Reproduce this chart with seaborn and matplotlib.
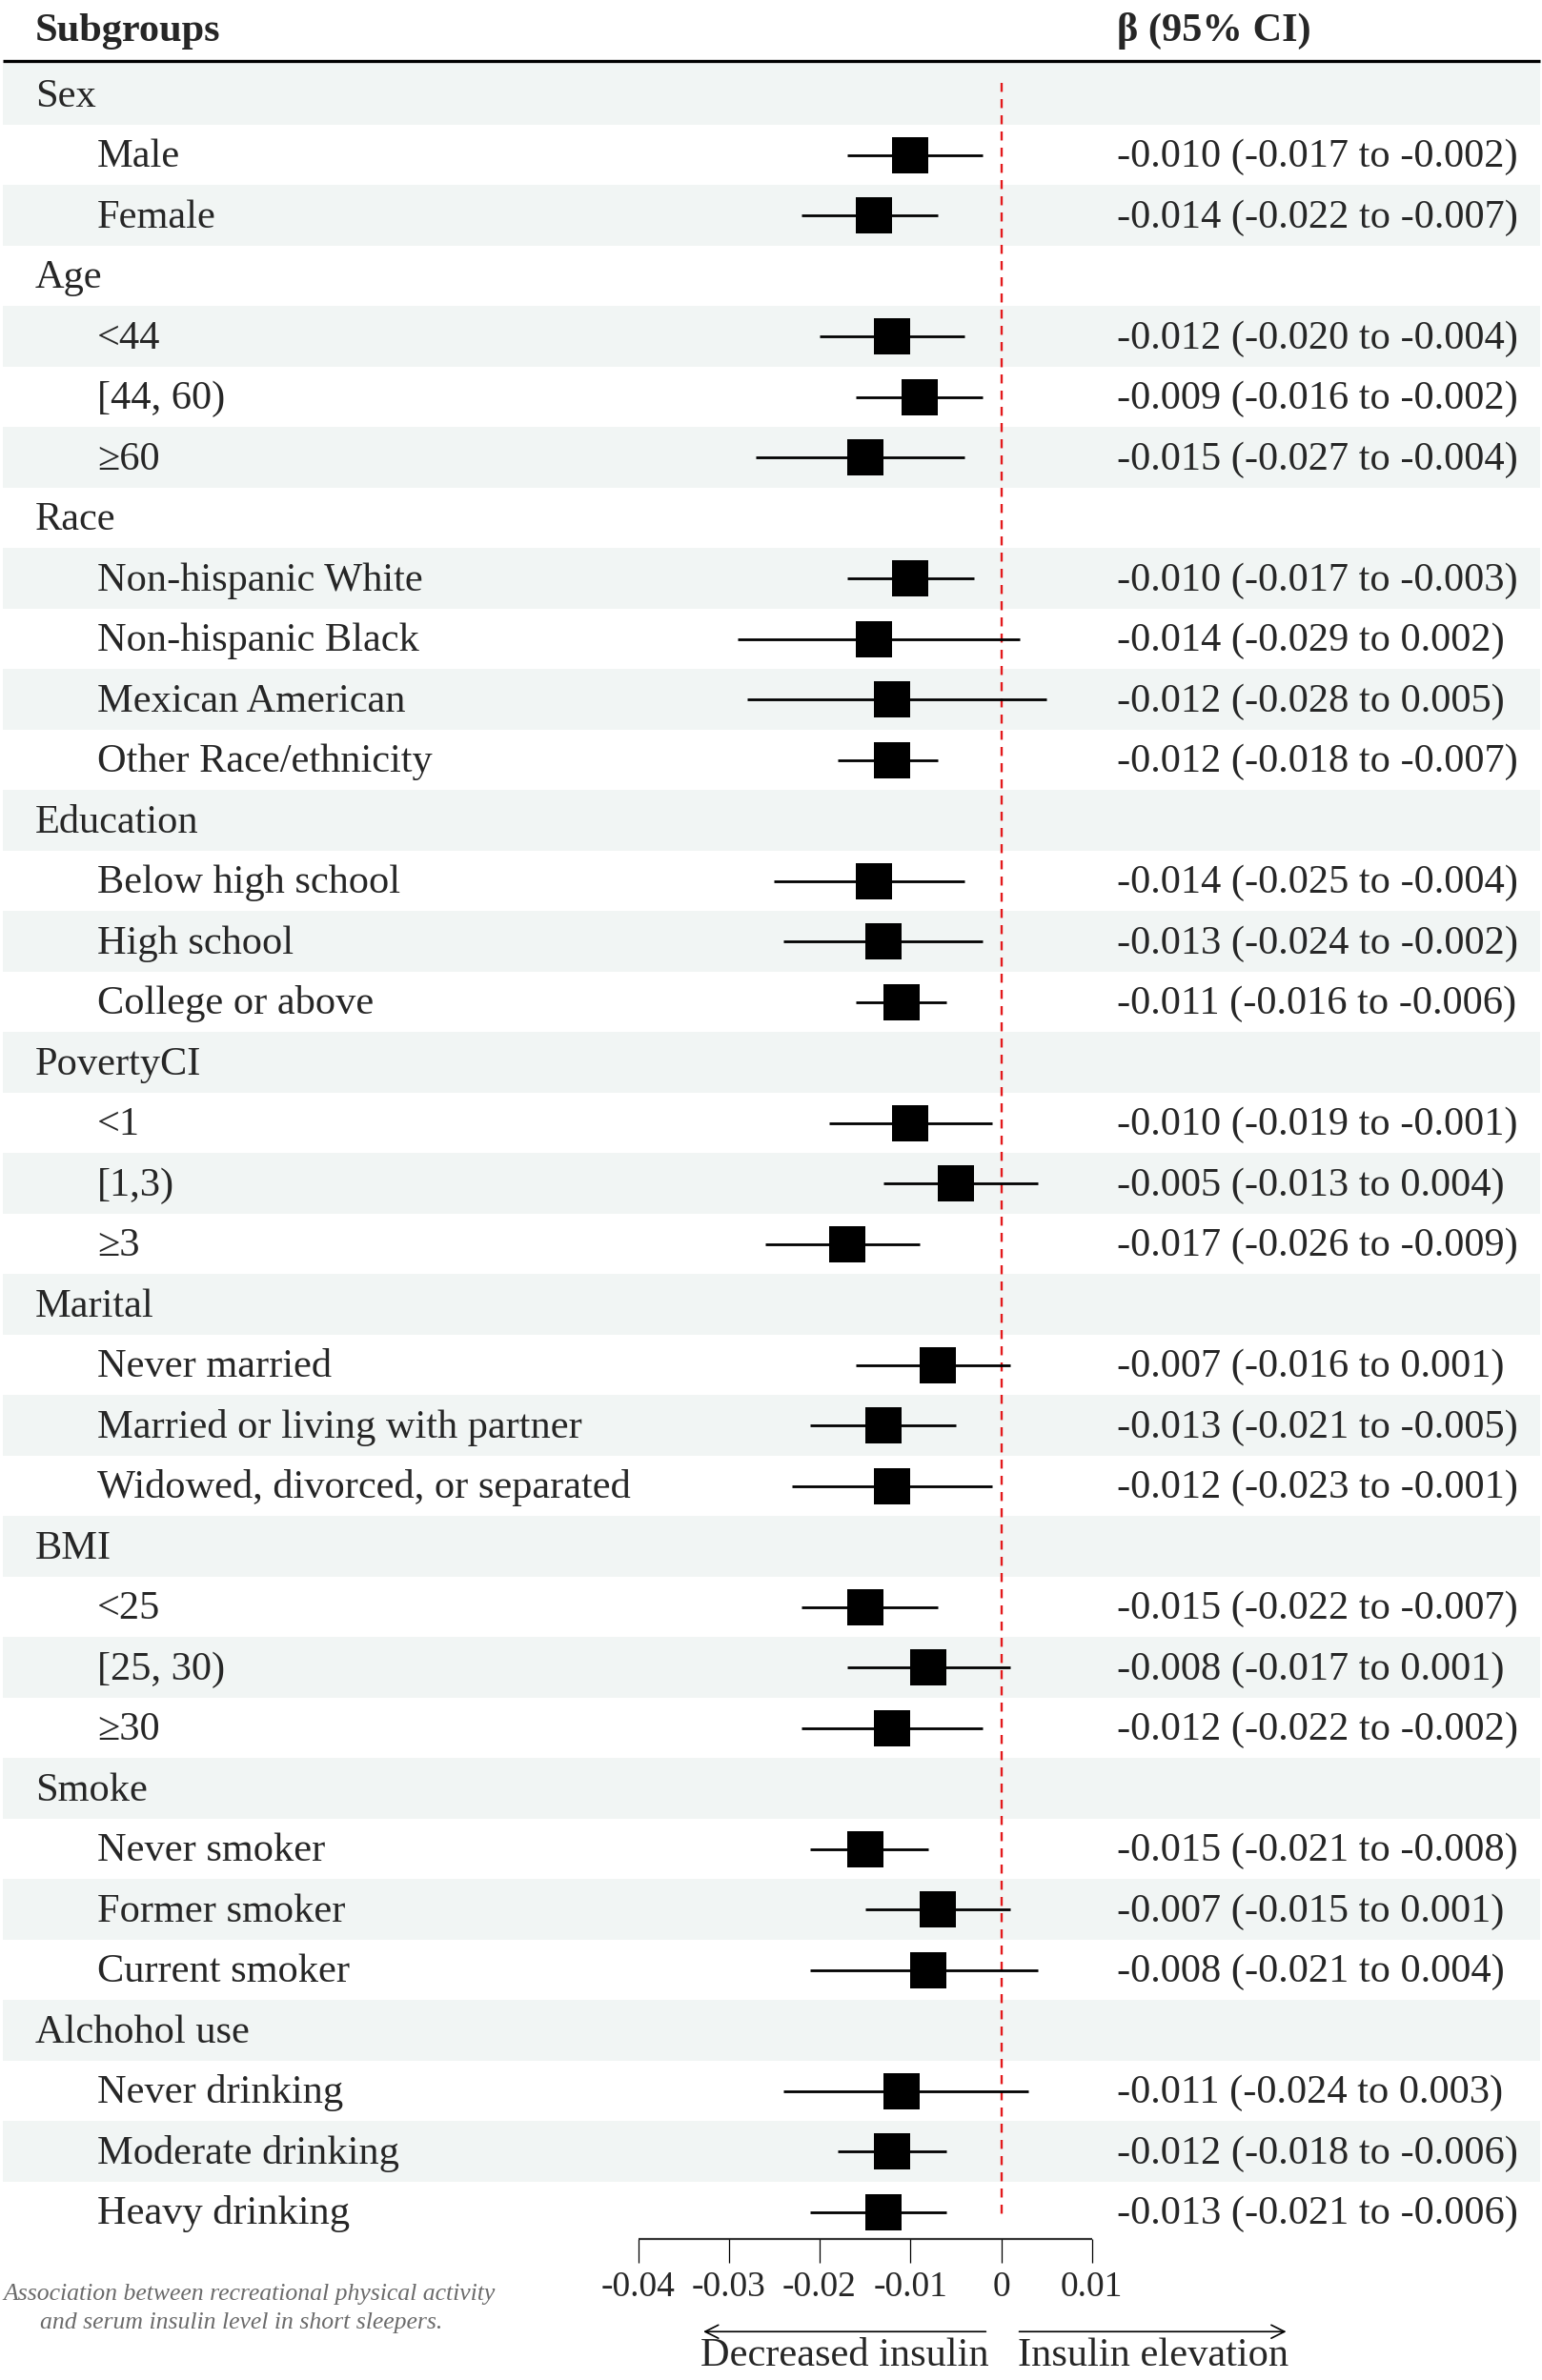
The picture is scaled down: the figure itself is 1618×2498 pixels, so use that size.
import numpy as np
import pandas as pd
import matplotlib
matplotlib.use("Agg")
import matplotlib.pyplot as plt
import seaborn as sns
from matplotlib.transforms import blended_transform_factory

# ---- data -------------------------------------------------------------
groups = ["Sex", "Age", "Race", "Education", "PovertyCI", "Marital",
          "BMI", "Smoke", "Alchohol use"]
subgroups = [
    ["Male", "Female"],
    ["<44", "[44, 60)", "\u226560"],
    ["Non-hispanic White", "Non-hispanic Black", "Mexican American",
     "Other Race/ethnicity"],
    ["Below high school", "High school", "College or above"],
    ["<1", "[1,3)", "\u22653"],
    ["Never married", "Married or living with partner",
     "Widowed, divorced, or separated"],
    ["<25", "[25, 30)", "\u226530"],
    ["Never smoker", "Former smoker", "Current smoker"],
    ["Never drinking", "Moderate drinking", "Heavy drinking"],
]
beta = [-0.010, -0.014,
        -0.012, -0.009, -0.015,
        -0.010, -0.014, -0.012, -0.012,
        -0.014, -0.013, -0.011,
        -0.010, -0.005, -0.017,
        -0.007, -0.013, -0.012,
        -0.015, -0.008, -0.012,
        -0.015, -0.007, -0.008,
        -0.011, -0.012, -0.013]
lower = [-0.017, -0.022,
         -0.020, -0.016, -0.027,
         -0.017, -0.029, -0.028, -0.018,
         -0.025, -0.024, -0.016,
         -0.019, -0.013, -0.026,
         -0.016, -0.021, -0.023,
         -0.022, -0.017, -0.022,
         -0.021, -0.015, -0.021,
         -0.024, -0.018, -0.021]
upper = [-0.002, -0.007,
         -0.004, -0.002, -0.004,
         -0.003, 0.002, 0.005, -0.007,
         -0.004, -0.002, -0.006,
         -0.001, 0.004, -0.009,
         0.001, -0.005, -0.001,
         -0.007, 0.001, -0.002,
         -0.008, 0.001, 0.004,
         0.003, -0.006, -0.006]
xticks = [-0.04, -0.03, -0.02, -0.01, 0, 0.01]
xtick_labels = ["-0.04", "-0.03", "-0.02", "-0.01", "0", "0.01"]

# build the row table: group header rows followed by their subgroups
rows = []
k = 0
for g, subs in zip(groups, subgroups):
    rows.append({"label": g, "header": True, "beta": np.nan,
                 "lower": np.nan, "upper": np.nan})
    for s in subs:
        rows.append({"label": s, "header": False, "beta": beta[k],
                     "lower": lower[k], "upper": upper[k]})
        k += 1
df = pd.DataFrame(rows)
df["row"] = np.arange(len(df))
est = df[~df["header"]]

# ---- figure -----------------------------------------------------------
sns.set_theme(style="white")
plt.rcParams["font.family"] = ["Liberation Serif", "DejaVu Serif"]

W, H = 1618, 2498
fig = plt.figure(figsize=(W / 100, H / 100), dpi=100)
ax = fig.add_axes([0, 0, 1, 1])
ax.axis("off")

# pixel layout: x=0 at 1050.5px, 0.01 per 95.25px; row 0 at 99px, 63.5px per row
ax.set_xlim(-1050.5 / 9525, (W - 1050.5) / 9525)
ax.set_ylim((H - 99) / 63.5, -99 / 63.5)
tr = blended_transform_factory(ax.transAxes, ax.transData)

shade = "#f1f5f4"
fs = 30.5
base_off = 0.20  # text baseline below row centre

# alternating row bands
for r in df["row"]:
    if r % 2 == 0:
        ax.axhspan(r - 0.5, r + 0.5, xmin=3 / W, xmax=1616 / W,
                   color=shade, lw=0, zorder=0)

# header
ax.text(37 / W, -0.88, "Subgroups", transform=tr, fontsize=fs,
        fontweight="bold", va="baseline", ha="left")
ax.text(1172 / W, -0.88, "\u03b2 (95% CI)", transform=tr, fontsize=fs,
        fontweight="bold", va="baseline", ha="left")
ax.plot([3 / W, 1616 / W], [-0.55, -0.55], transform=tr, color="black",
        lw=2.4, solid_capstyle="butt")

# row labels and CI text
for _, r in df.iterrows():
    x = 37 / W if r["header"] else 102 / W
    ax.text(x, r["row"] + base_off, r["label"], transform=tr, fontsize=fs,
            va="baseline", ha="left")
    if not r["header"]:
        txt = f"{r['beta']:.3f} ({r['lower']:.3f} to {r['upper']:.3f})"
        ax.text(1172 / W, r["row"] + base_off, txt, transform=tr,
                fontsize=fs, va="baseline", ha="left")

# reference line
ax.plot([0, 0], [-0.19, 35.13], color="#e31a1c", lw=1.7,
        dashes=(4, 3.2), zorder=1)

# confidence intervals and point estimates
ax.hlines(est["row"], est["lower"], est["upper"], color="black", lw=2,
          zorder=2)
sns.scatterplot(data=est, x="beta", y="row", marker="s", s=740,
                color="black", linewidth=0, ax=ax, zorder=3, legend=False)

# x axis drawn by hand below the table
axis_y = 35.45
ax.hlines(axis_y, xticks[0], xticks[-1], color="#333333", lw=1.6)
ax.vlines(xticks, axis_y, 35.84, color="black", lw=0.9)
for t, lab in zip(xticks, xtick_labels):
    ax.text(t, 36.39, lab, fontsize=27, ha="center", va="baseline")

# direction arrows
arr_y = 36.98
ax.annotate("", xy=(-0.0331, arr_y), xytext=(-0.0014, arr_y),
            arrowprops=dict(arrowstyle="->", lw=1.2, color="black",
                            mutation_scale=25))
ax.annotate("", xy=(0.0317, arr_y), xytext=(0.0017, arr_y),
            arrowprops=dict(arrowstyle="->", lw=1.2, color="black",
                            mutation_scale=25))
ax.text(-0.0172, 37.54, "Decreased insulin", fontsize=fs, ha="center",
        va="baseline")
ax.text(0.0167, 37.54, "Insulin elevation", fontsize=fs, ha="center",
        va="baseline")

# caption
ax.text(262 / W, 36.46, "Association between recreational physical activity",
        transform=tr, fontsize=18.5, style="italic", color="#6b6b6b",
        ha="center", va="baseline")
ax.text(253 / W, 36.93, "and serum insulin level in short sleepers.",
        transform=tr, fontsize=18.5, style="italic", color="#6b6b6b",
        ha="center", va="baseline")

fig.savefig("out.png", dpi=100, facecolor="white")
